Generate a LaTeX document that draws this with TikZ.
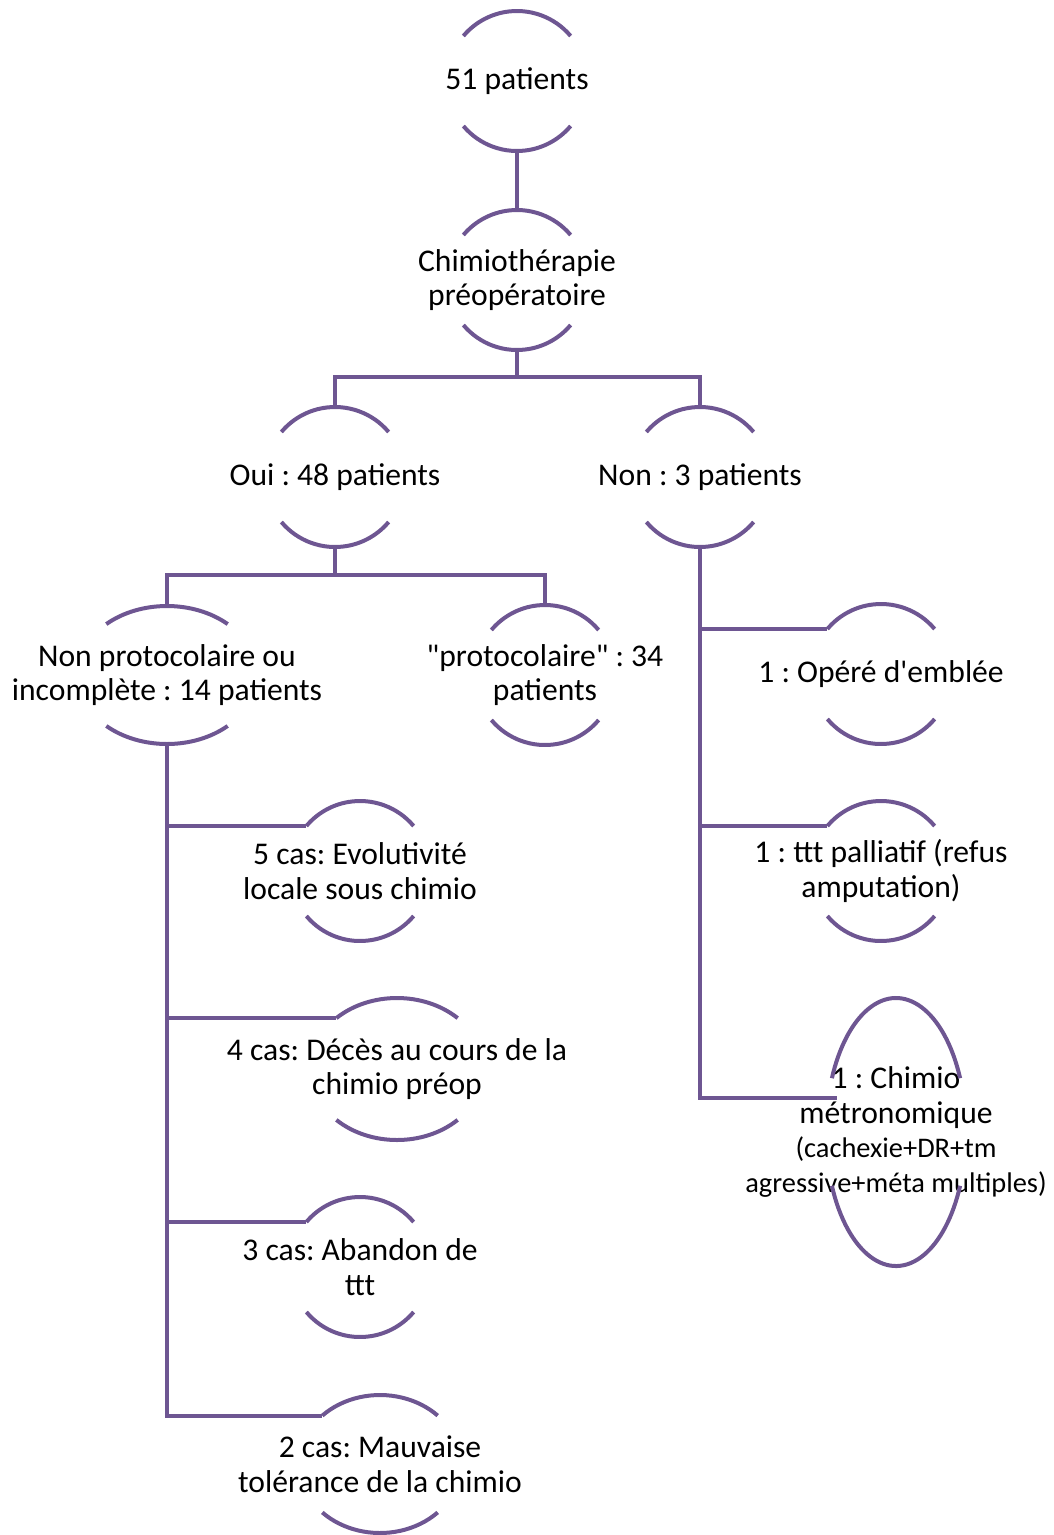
\documentclass[tikz,border=0pt]{standalone}
\usepackage{fontspec}
\newfontfamily\calibri{Carlito}
\frenchspacing
\definecolor{arcPurple}{RGB}{110, 86, 146}
\newcommand{\smalltxt}{\fontsize{28.4}{33}\selectfont}
\newcommand{\halfarcs}[3]{%
  \pgfmathsetmacro\arcT{atan(#2/#3*tan(40))}%
  \coordinate (#1-tl) at ([shift={(180-\arcT:#2pt and #3pt)}]#1.center);
  \draw[arcline] ([shift={(\arcT:#2pt and #3pt)}]#1.center) arc[start angle=\arcT, end angle=180-\arcT, x radius=#2pt, y radius=#3pt];
  \draw[arcline] ([shift={(180+\arcT:#2pt and #3pt)}]#1.center) arc[start angle=180+\arcT, end angle=360-\arcT, x radius=#2pt, y radius=#3pt];
}
\tikzset{
  arcline/.style={arcPurple, line width=4pt},
  link/.style={arcPurple, line width=4pt},
  arcbox/.style={font=\calibri\fontsize{31.6}{34.5}\selectfont, align=center, inner sep=0pt, minimum height=#1},
  arcbox/.default=140pt
}
\begin{document}
\begin{tikzpicture}[x=1pt, y=1pt]
  \useasboundingbox (0,0) rectangle (1054,-1535);
  \node[arcbox] (total) at (517,-81) {51 patients};
  \node[arcbox] (chimio) at (517,-280) {Chimiothérapie\\préopératoire};
  \node[arcbox] (oui) at (335,-477) {Oui : 48 patients};
  \node[arcbox] (non) at (700,-477) {Non : 3 patients};
  \node[arcbox=138pt] (nonproto) at (167,-675) {Non protocolaire ou\\incomplète : 14 patients};
  \node[arcbox] (proto) at (545,-675) {"protocolaire" : 34\\patients};
  \node[arcbox=141pt] (evol) at (360,-871) {5 cas: Evolutivité\\locale sous chimio};
  \node[arcbox=142pt] (deces) at (397,-1069) {4 cas: Décès au cours de la\\chimio préop};
  \node[arcbox] (abandon) at (360,-1267) {3 cas: Abandon de\\ttt};
  \node[arcbox=138pt] (tolerance) at (380,-1464) {2 cas: Mauvaise\\tolérance de la chimio};
  \node[arcbox] (opere) at (881,-674) {1 : Opéré d'emblée};
  \node[arcbox] (pallia) at (881,-871) {1 : ttt palliatif (refus\\amputation)};
  \node[arcbox=268pt] (metro) at (896,-1132) {1 : Chimio\\métronomique\\{\smalltxt (cachexie+DR+tm}\\{\smalltxt agressive+méta multiples)}};
  \coordinate (metro-in) at ([shift={(-59,34)}]metro.center);

  \halfarcs{total}{70}{70}
  \halfarcs{chimio}{70}{70}
  \halfarcs{oui}{70}{70}
  \halfarcs{non}{70}{70}
  \halfarcs{nonproto}{90}{69}
  \halfarcs{proto}{70}{70}
  \halfarcs{evol}{70}{70}
  \halfarcs{deces}{87}{71}
  \halfarcs{abandon}{70}{70}
  \halfarcs{tolerance}{81}{69}
  \halfarcs{opere}{70}{70}
  \halfarcs{pallia}{70}{70}
  \halfarcs{metro}{70}{134}

  \draw[link] (total.south) -- (chimio.north);
  \draw[link] (chimio.south) -- ++(0,-27) -| (oui.north);
  \draw[link] (chimio.south) -- ++(0,-27) -| (non.north);
  \draw[link] (oui.south) -- ++(0,-28) -| (nonproto.north);
  \draw[link] (oui.south) -- ++(0,-28) -| (proto.north);
  \foreach \child in {evol,deces,abandon,tolerance}
    \draw[link] (nonproto.south) |- (\child-tl);
  \foreach \child in {opere,pallia}
    \draw[link] (non.south) |- (\child-tl);
  \draw[link] (non.south) |- (metro-in);
\end{tikzpicture}
\end{document}
